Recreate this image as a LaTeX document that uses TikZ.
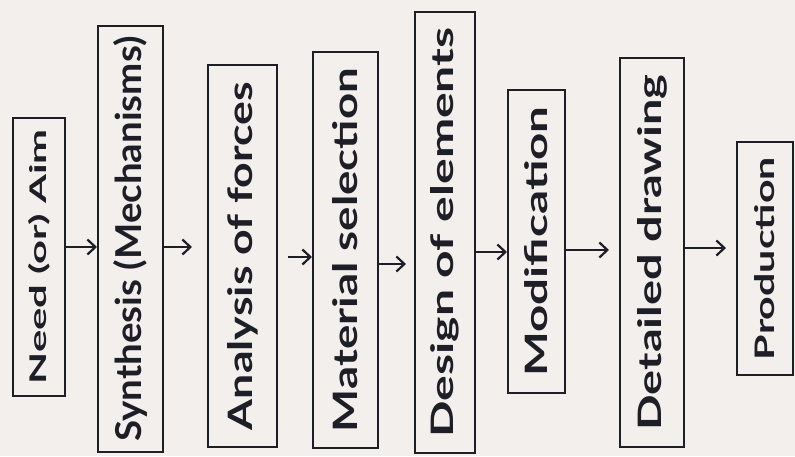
\documentclass[tikz,border=0pt]{standalone}
\usepackage{fontspec}
\setmainfont{Lato}
\usetikzlibrary{arrows.meta}
\definecolor{paper}{RGB}{243,239,237}
\definecolor{ink}{RGB}{30,30,38}
\newcommand{\vtext}[3]{\rotatebox{90}{\resizebox{#1}{#2}{\bfseries #3}}}
\begin{document}
\begin{tikzpicture}[x=1pt,y=-1pt,
  stage/.style={draw=ink, line width=2pt, inner sep=0pt, text=ink},
  flow/.style={draw=ink, line width=2.2pt, -{Straight Barb[length=8pt,width=15pt,line width=2.2pt]}}]
\fill[paper] (0,0) rectangle (795,456);
\useasboundingbox (0,0) rectangle (795,456);

\node[stage, minimum width=52pt, minimum height=278pt] (need) at (39,257) {\vtext{255pt}{18pt}{Need (or) Aim}};
\node[stage, minimum width=65pt, minimum height=426pt] (syn) at (130.5,239) {\vtext{405pt}{28pt}{Synthesis (Mechanisms)}};
\node[stage, minimum width=69pt, minimum height=382pt] (ana) at (242.5,256) {\vtext{348pt}{25pt}{Analysis of forces}};
\node[stage, minimum width=65pt, minimum height=396pt] (mat) at (345.5,250) {\vtext{364pt}{25pt}{Material selection}};
\node[stage, minimum width=60pt, minimum height=441pt] (des) at (445,232.5) {\vtext{410pt}{23pt}{Design of elements}};
\node[stage, minimum width=57pt, minimum height=303pt] (mod) at (536.5,241.5) {\vtext{270pt}{23pt}{Modification}};
\node[stage, minimum width=64pt, minimum height=389pt] (det) at (652,252.5) {\vtext{356pt}{24pt}{Detailed drawing}};
\node[stage, minimum width=56pt, minimum height=233pt] (pro) at (765,258.5) {\vtext{203pt}{20pt}{Production}};

\draw[flow] (need.east |- 0,247) -- (syn.west |- 0,247);
\draw[flow, shorten >=15pt] (syn.east |- 0,247) -- (ana.west |- 0,247);
\draw[flow, shorten <=10pt] (ana.east |- 0,257) -- (mat.west |- 0,257);
\draw[flow, shorten >=8pt] (mat.east |- 0,264) -- (des.west |- 0,264);
\draw[flow] (des.east |- 0,252) -- (mod.west |- 0,252);
\draw[flow, shorten >=10pt] (mod.east |- 0,250) -- (det.west |- 0,250);
\draw[flow, shorten >=10pt] (det.east |- 0,248) -- (pro.west |- 0,248);
\end{tikzpicture}
\end{document}
